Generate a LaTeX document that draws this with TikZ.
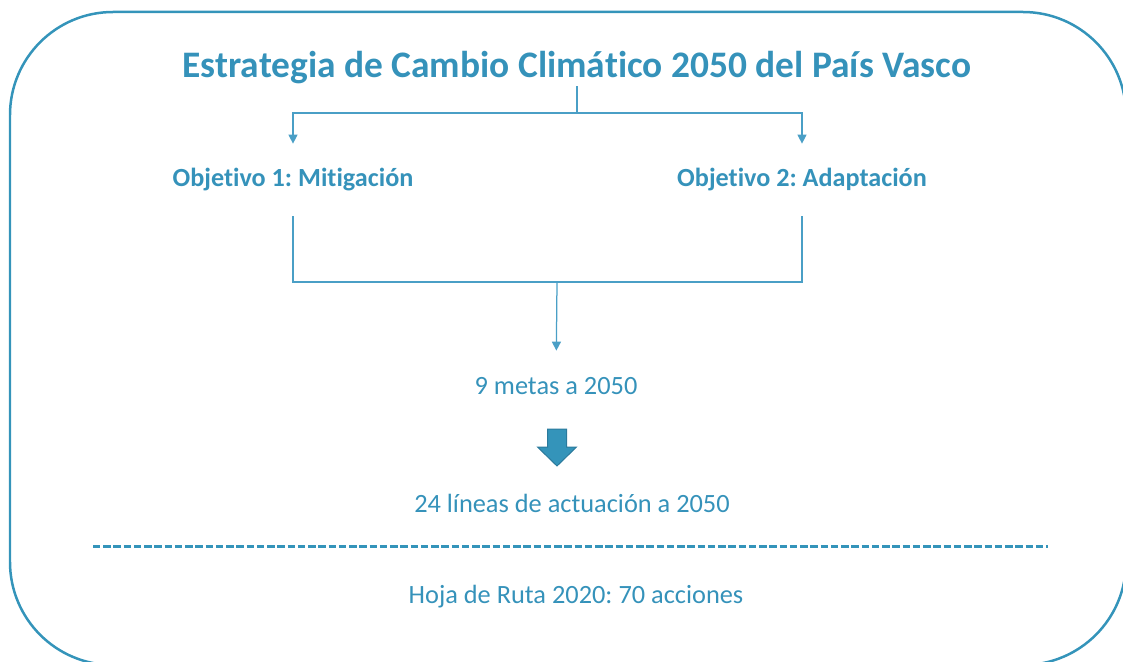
\documentclass[tikz,border=0pt]{standalone}
\usepackage{fontspec}
\setmainfont{Carlito}[Ligatures=NoCommon]
\frenchspacing
\usetikzlibrary{arrows.meta}

\begin{document}
\begin{tikzpicture}[x=0.02cm,y=-0.02cm,>={Triangle[length=0.18cm,width=0.18cm]}]

\definecolor{ebox}{HTML}{3494BA} % frame blue
\definecolor{etxt}{HTML}{3592BA} % text blue
\definecolor{elin}{HTML}{4A9FC6} % light connector blue
\definecolor{edrk}{HTML}{2B7A9C} % dark border

\tikzstyle{frame}=[draw=ebox,line width=0.05cm,rounded corners=2.06cm]

\tikzstyle{title}=[text=etxt,inner sep=1pt,
	font=\fontsize{21.3}{25}\selectfont\bfseries]

\tikzstyle{goal}=[text=etxt,inner sep=0pt,minimum height=1.44cm,
	font=\fontsize{14.9}{18}\selectfont\bfseries]

\tikzstyle{item}=[text=etxt,inner sep=0pt,minimum height=1.4cm,
	font=\fontsize{15}{18}\selectfont]

\tikzstyle{line}=[draw=elin,line width=0.025cm]
\tikzstyle{bigarrow}=[fill=ebox,draw=edrk,line width=0.02cm]
\tikzstyle{sep}=[draw=ebox,line width=0.06cm,dash pattern=on 0.15cm off 0.055cm]

  \useasboundingbox (0,0) rectangle (1123,662);
  \clip (0,0) rectangle (1123,662);

  \path [frame] (10,12) rectangle (1126,665);

  \node  (title)  at (577,68)   [title]
         {Estrategia de Cambio Climático 2050 del País Vasco};

  \node  (obj1)   at (293,180)  [goal] {Objetivo 1: Mitigación};
  \node  (obj2)   at (802,180)  [goal] {Objetivo 2: Adaptación};

  \node  (metas)  at (556,386)  [item] {9 metas a 2050};
  \node  (lineas) at (572,503)  [item] {24 líneas de actuación a 2050};
  \node  (hoja)   at (576,597)  [item] {Hoja de Ruta 2020: 70 acciones};

  \node  (split)  at (577,113)  [coordinate] {};
  \node  (join)   at (557,282)  [coordinate] {};
  \node  (bigarr) at (557,448)  [coordinate] {};
  \node  (sepl)   at (93,546)   [coordinate] {};
  \node  (sepr)   at (1048,546) [coordinate] {};

  \draw [line] (title) -- (split);
  \draw [line,->] (split) -| (obj1);
  \draw [line,->] (split) -| (obj2);

  \draw [line] (obj1) -- (obj1 |- join) -- (obj2 |- join) -- (obj2);
  \draw [line,->] (join) -- (metas);

  \draw [bigarrow,shift={(bigarr)}]
        (-9.5,-19) -- (9.5,-19) -- (9.5,-1) -- (19.5,-1)
        -- (0,18) -- (-19.5,-1) -- (-9.5,-1) -- cycle;

  \path [sep] (sepl) -- (sepr);

\end{tikzpicture}
\end{document}
